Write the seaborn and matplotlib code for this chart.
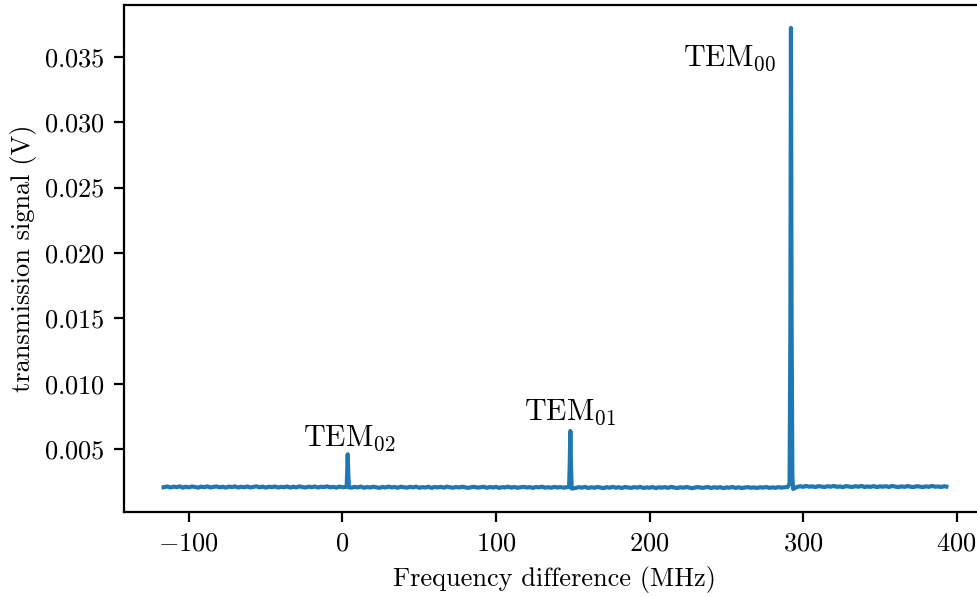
import matplotlib
matplotlib.use("Agg")
import matplotlib.pyplot as plt
import pandas as pd
import seaborn as sns

# Cavity transmission scan: frequency offset (MHz) and photodiode signal (V)
freq_left = [-116.5, -114, -112, -110, -108, -106, -104, -102, -100, -98,
             -96, -94, -92, -90, -88, -86, -84, -82, -80, -78,
             -76, -74, -72, -70, -68, -66, -64, -62, -60, -58,
             -56, -54, -52, -50, -48, -46, -44, -42, -40, -38,
             -36, -34, -32, -30, -28, -26, -24, -22, -20, -18,
             -16, -14, -12, -10, -8, -6, -4, -2, 0, 2]
sig_left = [0.00210, 0.00216, 0.00208, 0.00215, 0.00211, 0.00217, 0.00207, 0.00214, 0.00209, 0.00216,
            0.00212, 0.00207, 0.00215, 0.00210, 0.00217, 0.00208, 0.00213, 0.00216, 0.00209, 0.00214,
            0.00207, 0.00215, 0.00211, 0.00217, 0.00208, 0.00214, 0.00210, 0.00216, 0.00208, 0.00213,
            0.00217, 0.00209, 0.00215, 0.00207, 0.00214, 0.00211, 0.00216, 0.00208, 0.00213, 0.00210,
            0.00216, 0.00207, 0.00214, 0.00209, 0.00217, 0.00211, 0.00208, 0.00215, 0.00210, 0.00216,
            0.00208, 0.00214, 0.00211, 0.00217, 0.00209, 0.00213, 0.00207, 0.00215, 0.00210, 0.00212]

freq_tem02 = [2.7, 3.0, 3.4, 3.8, 4.2]
sig_tem02 = [0.00215, 0.00300, 0.00462, 0.00305, 0.00209]

freq_mid = [6, 8, 10, 12, 14, 16, 18, 20, 22, 24,
            26, 28, 30, 32, 34, 36, 38, 40, 42, 44,
            46, 48, 50, 52, 54, 56, 58, 60, 62, 64,
            66, 68, 70, 72, 74, 76, 78, 80, 82, 84,
            86, 88, 90, 92, 94, 96, 98, 100, 102, 104,
            106, 108, 110, 112, 114, 116, 118, 120, 122, 124,
            126, 128, 130, 132, 134, 136, 138, 140, 142, 144,
            146]
sig_mid = [0.00207, 0.00213, 0.00209, 0.00215, 0.00206, 0.00212, 0.00208, 0.00214, 0.00210, 0.00205,
           0.00213, 0.00208, 0.00215, 0.00209, 0.00212, 0.00206, 0.00214, 0.00210, 0.00207, 0.00213,
           0.00209, 0.00215, 0.00206, 0.00211, 0.00208, 0.00214, 0.00205, 0.00212, 0.00209, 0.00213,
           0.00207, 0.00215, 0.00210, 0.00206, 0.00212, 0.00208, 0.00214, 0.00209, 0.00205, 0.00211,
           0.00213, 0.00207, 0.00210, 0.00214, 0.00206, 0.00212, 0.00208, 0.00213, 0.00205, 0.00211,
           0.00209, 0.00214, 0.00207, 0.00212, 0.00206, 0.00210, 0.00213, 0.00208, 0.00211, 0.00205,
           0.00212, 0.00209, 0.00214, 0.00207, 0.00210, 0.00206, 0.00213, 0.00208, 0.00211, 0.00207,
           0.00210]

freq_tem01 = [147.6, 148.0, 148.4, 148.8, 149.3]
sig_tem01 = [0.00212, 0.00380, 0.00640, 0.00385, 0.00200]

freq_upper = [152, 154, 156, 158, 160, 162, 164, 166, 168, 170,
              172, 174, 176, 178, 180, 182, 184, 186, 188, 190,
              192, 194, 196, 198, 200, 202, 204, 206, 208, 210,
              212, 214, 216, 218, 220, 222, 224, 226, 228, 230,
              232, 234, 236, 238, 240, 242, 244, 246, 248, 250,
              252, 254, 256, 258, 260, 262, 264, 266, 268, 270,
              272, 274, 276, 278, 280, 282, 284, 286, 288, 290]
sig_upper = [0.00205, 0.00211, 0.00207, 0.00213, 0.00204, 0.00210, 0.00206, 0.00212, 0.00208, 0.00203,
             0.00211, 0.00206, 0.00213, 0.00207, 0.00210, 0.00204, 0.00212, 0.00208, 0.00205, 0.00211,
             0.00207, 0.00213, 0.00204, 0.00209, 0.00206, 0.00212, 0.00203, 0.00210, 0.00207, 0.00211,
             0.00205, 0.00213, 0.00208, 0.00204, 0.00210, 0.00206, 0.00212, 0.00207, 0.00203, 0.00209,
             0.00211, 0.00205, 0.00208, 0.00212, 0.00204, 0.00210, 0.00206, 0.00211, 0.00203, 0.00209,
             0.00207, 0.00212, 0.00205, 0.00210, 0.00204, 0.00208, 0.00211, 0.00206, 0.00209, 0.00204,
             0.00210, 0.00207, 0.00212, 0.00205, 0.00209, 0.00206, 0.00211, 0.00207, 0.00210, 0.00212]

freq_tem00 = [291.2, 291.7, 292.1, 292.5, 293.0, 293.5]
sig_tem00 = [0.00240, 0.01400, 0.03720, 0.01500, 0.00300, 0.00197]

freq_right = [296, 298, 300, 302, 304, 306, 308, 310, 312, 314,
              316, 318, 320, 322, 324, 326, 328, 330, 332, 334,
              336, 338, 340, 342, 344, 346, 348, 350, 352, 354,
              356, 358, 360, 362, 364, 366, 368, 370, 372, 374,
              376, 378, 380, 382, 384, 386, 388, 390, 392, 393.3]
sig_right = [0.00212, 0.00218, 0.00213, 0.00220, 0.00214, 0.00217, 0.00211, 0.00219, 0.00215, 0.00212,
             0.00218, 0.00214, 0.00220, 0.00213, 0.00216, 0.00211, 0.00219, 0.00215, 0.00212, 0.00218,
             0.00214, 0.00220, 0.00212, 0.00216, 0.00213, 0.00219, 0.00211, 0.00217, 0.00214, 0.00218,
             0.00212, 0.00220, 0.00215, 0.00211, 0.00217, 0.00213, 0.00219, 0.00214, 0.00212, 0.00218,
             0.00215, 0.00211, 0.00217, 0.00213, 0.00220, 0.00214, 0.00216, 0.00212, 0.00218, 0.00215]

# Mode labels: text, x (MHz), y (V)
mode_labels = [r"TEM$_{02}$", r"TEM$_{01}$", r"TEM$_{00}$"]
label_x = [-25.8, 118.3, 221.5]
label_y = [0.00525, 0.00724, 0.03427]

scan = pd.DataFrame({
    "freq": freq_left + freq_tem02 + freq_mid + freq_tem01 + freq_upper + freq_tem00 + freq_right,
    "signal": sig_left + sig_tem02 + sig_mid + sig_tem01 + sig_upper + sig_tem00 + sig_right,
})

plt.rcParams.update({
    "font.family": "serif",
    "font.serif": ["cmr10"],
    "mathtext.fontset": "cm",
    "axes.formatter.use_mathtext": True,
    "font.size": 9.5,
})

fig = plt.figure(figsize=(9.77 / 2, 5.97 / 2), dpi=200)
ax = fig.add_axes([0.1274, 0.1424, 0.8813, 0.8492])

sns.lineplot(data=scan, x="freq", y="signal", ax=ax, errorbar=None,
             color="#1f77b4", linewidth=1.5)

ax.set_xlim(-142, 418.8)
ax.set_ylim(0.00021, 0.03895)
ax.set_xlabel("Frequency difference (MHz)")
ax.set_ylabel("transmission signal (V)", labelpad=2.5)

for txt, lx, ly in zip(mode_labels, label_x, label_y):
    ax.text(lx, ly, txt, fontsize=10.8)

fig.savefig("out.png", dpi=200)
